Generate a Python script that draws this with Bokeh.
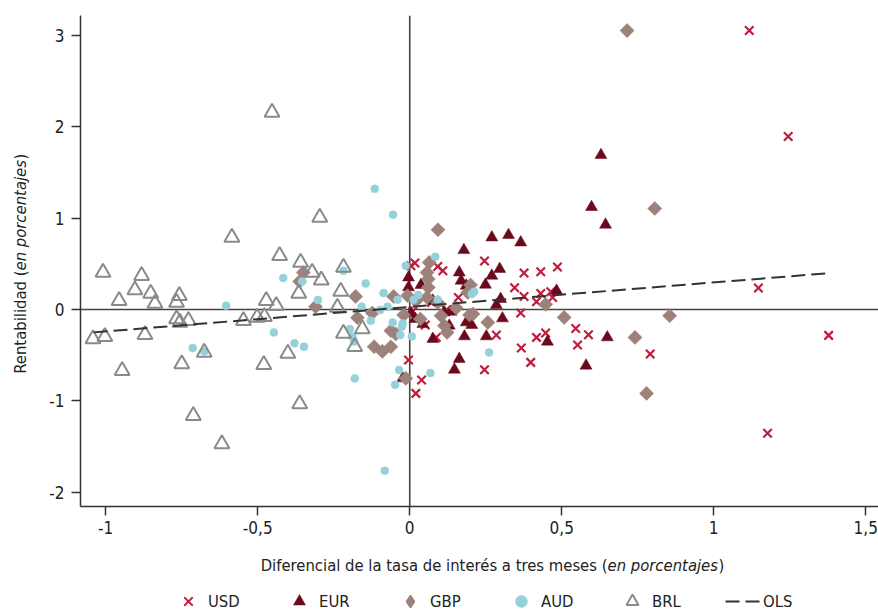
import numpy as np
from bokeh.plotting import figure
from bokeh.layouts import column, row
from bokeh.models import FixedTicker, Label, Legend, LegendItem, Span, Range1d
from bokeh.embed import file_html
from bokeh.resources import INLINE

FONT = "DejaVu Sans Condensed, Liberation Sans Narrow, sans-serif"
TXT = "#222222"

# Interest-rate differential (x, %) vs. carry-trade return (y, %) by currency
usd_x = [1.117, 1.245, 1.147, 1.378, 1.177, 0.546, 0.588, 0.552, 0.791, 0.246,
         0.109, 0.376, 0.431, 0.486, 0.345, 0.376, 0.431, 0.464, 0.470, 0.417,
         0.160, 0.365, 0.285, 0.417, 0.447, 0.367, 0.398, 0.246, 0.051, 0.087,
         -0.004, 0.039, 0.020, 0.004, 0.017, 0.092, 0.072, 0.120, 0.010]
usd_y = [3.05, 1.892, 0.235, -0.283, -1.354, -0.207, -0.275, -0.388, -0.486, 0.53,
         0.424, 0.399, 0.413, 0.464, 0.238, 0.143, 0.176, 0.195, 0.132, 0.085,
         0.132, -0.038, -0.279, -0.305, -0.257, -0.421, -0.578, -0.658, -0.17, -0.305,
         -0.552, -0.77, -0.917, 0.479, 0.508, 0.471, 0.078, -0.005, -0.02]

eur_x = [0.629, 0.598, 0.644, 0.650, 0.580, 0.270, 0.325, 0.365, 0.178, 0.163,
         0.169, 0.186, 0.296, 0.270, 0.249, 0.299, 0.285, 0.483, 0.136, 0.305,
         0.186, 0.180, 0.252, 0.163, 0.147, 0.453, 0.204, 0.130, -0.004, -0.004,
         0.037, 0.076, 0.004, 0.043, 0.017, 0.076, -0.023, 0.114]
eur_y = [1.689, 1.12, 0.927, -0.305, -0.614, 0.788, 0.814, 0.733, 0.65, 0.405,
         0.315, 0.26, 0.443, 0.369, 0.271, 0.115, 0.049, 0.205, -0.024, -0.097,
         -0.141, -0.294, -0.294, -0.541, -0.658, -0.352, -0.17, -0.177, 0.351, 0.242,
         0.268, 0.096, -0.038, -0.159, -0.104, -0.322, -0.753, -0.032]

gbp_x = [0.715, 0.806, 0.855, 0.508, 0.741, 0.779, 0.200, 0.191, 0.447, 0.257,
         0.197, 0.093, 0.114, 0.123, 0.064, 0.057, 0.061, 0.061, 0.057, -0.178,
         -0.053, -0.007, 0.028, 0.103, -0.172, -0.123, -0.020, 0.035, -0.062, -0.046,
         -0.117, -0.090, -0.062, -0.013, 0.092, 0.020, 0.208, 0.153, -0.350, -0.362,
         -0.310]
gbp_y = [3.05, 1.105, -0.068, -0.086, -0.305, -0.917, 0.268, 0.187, 0.056, -0.141,
         -0.06, 0.872, -0.177, -0.25, 0.515, 0.405, 0.333, 0.242, 0.132, 0.143,
         0.143, 0.151, 0.121, -0.068, -0.09, -0.038, -0.06, -0.104, -0.232, -0.268,
         -0.407, -0.458, -0.407, -0.753, 0.078, 0.096, -0.049, 0.016, 0.405, 0.307,
         0.031]

aud_x = [-0.416, -0.604, -0.354, -0.302, -0.447, -0.379, -0.348, -0.676, -0.714, -0.218,
         -0.197, -0.188, -0.183, -0.181, -0.158, -0.115, -0.055, -0.082, -0.145, -0.086,
         -0.040, -0.013, 0.084, -0.097, -0.073, 0.013, 0.028, 0.092, -0.128, -0.056,
         -0.023, -0.026, -0.031, 0.007, -0.035, -0.048, 0.068, 0.204, 0.212, 0.261]
aud_y = [0.344, 0.042, 0.307, 0.104, -0.25, -0.37, -0.407, -0.458, -0.421, 0.424,
         -0.213, -0.297, -0.349, -0.753, 0.031, 1.32, 1.036, -1.762, 0.285, 0.18,
         0.107, 0.479, 0.577, -0.005, 0.031, 0.107, 0.158, 0.107, -0.122, -0.141,
         -0.152, -0.188, -0.279, -0.294, -0.661, -0.822, -0.694, 0.169, 0.195, -0.469]

brl_x = [-0.453, -0.296, -0.585, -0.428, -0.359, -0.321, -0.291, -0.365, -0.218, -0.227,
         -0.472, -0.439, -0.238, -0.547, -0.502, -0.478, -0.218, -0.181, -0.401, -0.480,
         -0.362, -0.618, -1.009, -0.882, -0.904, -0.852, -0.838, -0.956, -0.758, -0.767,
         -0.767, -0.756, -0.728, -1.042, -1.003, -0.871, -0.946, -0.750, -0.676, -0.712,
         -0.156]
brl_y = [2.154, 1.007, 0.788, 0.588, 0.515, 0.405, 0.322, 0.176, 0.46, 0.198,
         0.096, 0.042, 0.023, -0.122, -0.086, -0.079, -0.261, -0.407, -0.48, -0.603,
         -1.033, -1.47, 0.405, 0.369, 0.213, 0.176, 0.067, 0.096, 0.151, 0.078,
         -0.104, -0.141, -0.122, -0.322, -0.297, -0.275, -0.669, -0.596, -0.469, -1.161,
         -0.213]

# Pooled OLS fit, drawn over the sample span
ols_x = [-1.04, 1.37]
ols_y = [-0.25, 0.395]

x_ticks = [-1, -0.5, 0, 0.5, 1, 1.5]
x_tick_labels = ["-1", "-0,5", "0", "0,5", "1", "1,5"]
y_ticks = [-2, -1, 0, 1, 2, 3]
y_tick_labels = ["-2", "-1", "0", "1", "2", "3"]

series_names = ["USD", "EUR", "GBP", "AUD", "BRL", "OLS"]

# Marker styles for the scatter
STYLES = {
    "USD": dict(marker="x", size=12, line_color="#BE1E3E", line_width=2.2),
    "EUR": dict(marker="triangle", size=12, fill_color="#6A0A1C",
                line_color="#6A0A1C", line_width=0.5),
    "GBP": dict(marker="square", size=10, angle=np.pi / 4, fill_color="#9C827A",
                line_color="#9C827A", line_width=0.5),
    "AUD": dict(marker="circle", size=8, fill_color="#95D0DB",
                line_color="#95D0DB", line_width=0.5),
    "BRL": dict(marker="triangle", size=15, fill_alpha=0, line_color="#8A8A8A",
                line_width=2),
}
# Legend swatches ignore marker rotation, so GBP uses the diamond marker there
SWATCH = dict(STYLES)
SWATCH["USD"] = dict(STYLES["USD"], line_width=1.8)
SWATCH["GBP"] = dict(marker="diamond", size=10, fill_color="#9C827A",
                     line_color="#9C827A", line_width=1.5)
OLS_STYLE = dict(line_color="#333333", line_width=2, line_dash="14 6")

data = {"USD": (usd_x, usd_y), "EUR": (eur_x, eur_y), "GBP": (gbp_x, gbp_y),
        "AUD": (aud_x, aud_y), "BRL": (brl_x, brl_y)}


def bare(fig):
    fig.grid.visible = False
    fig.outline_line_color = None
    fig.background_fill_color = "white"
    fig.border_fill_color = "white"
    return fig


# ---- main scatter panel ----
p = bare(figure(width=838, height=545, output_backend="svg", toolbar_location=None,
                x_range=Range1d(-1.083, 1.542), y_range=Range1d(-2.154, 3.215),
                min_border_left=40, min_border_right=0, min_border_top=15,
                min_border_bottom=39))

p.add_layout(Span(location=0, dimension="width", line_color="#444444",
                  line_width=1.6, level="underlay"))
p.add_layout(Span(location=0, dimension="height", line_color="#444444",
                  line_width=1.6, level="underlay"))

for name in series_names[:-1]:
    xs, ys = data[name]
    p.scatter(xs, ys, **STYLES[name])
p.line(ols_x, ols_y, **OLS_STYLE)

for ax in (p.xaxis[0], p.yaxis[0]):
    ax.axis_line_color = "#333333"
    ax.axis_line_width = 1.5
    ax.major_tick_line_color = "#333333"
    ax.major_tick_line_width = 1.5
    ax.major_tick_in = 0
    ax.major_tick_out = 9
    ax.minor_tick_line_color = None
    ax.major_label_text_font = FONT
    ax.major_label_text_font_size = "17px"
    ax.major_label_text_color = TXT

p.xaxis.ticker = FixedTicker(ticks=x_ticks)
p.xaxis.major_label_overrides = dict(zip(x_ticks, x_tick_labels))
p.xaxis.major_label_standoff = 5
p.yaxis.ticker = FixedTicker(ticks=y_ticks)
p.yaxis.major_label_overrides = dict(zip(y_ticks, y_tick_labels))
p.yaxis.major_label_standoff = 7


def title_part(fig, text, x, y, align, style="normal", angle=0.0):
    fig.add_layout(Label(x=x, y=y, x_units="screen", y_units="screen", text=text,
                         text_font=FONT, text_font_size="16.5px",
                         text_font_style=style, text_color=TXT,
                         text_align=align, text_baseline="middle", angle=angle))


# ---- y-axis title strip ----
ylab = bare(figure(width=40, height=545, output_backend="svg", toolbar_location=None,
                   x_axis_location=None, y_axis_location=None, min_border=0,
                   x_range=Range1d(0, 1), y_range=Range1d(0, 1)))
yx, yj = 20, 236
title_part(ylab, "Rentabilidad (", yx, yj, "right", angle=np.pi / 2)
title_part(ylab, "en porcentajes", yx, yj, "left", "italic", angle=np.pi / 2)
title_part(ylab, ")", yx, yj + 111, "left", angle=np.pi / 2)

# ---- x-axis title and legend strip ----
# The strip's ranges lie far from the data, so its series only feed the legend swatches.
foot = bare(figure(width=878, height=66, output_backend="svg", toolbar_location=None,
                   x_axis_location=None, y_axis_location=None, min_border=0,
                   x_range=Range1d(50, 51), y_range=Range1d(50, 51)))
xj, xy = 607, 46
title_part(foot, "Diferencial de la tasa de interés a tres meses (", xj, xy, "right")
title_part(foot, "en porcentajes", xj, xy, "left", "italic")
title_part(foot, ")", xj + 111, xy, "left")

swatches = [foot.scatter(data[n][0], data[n][1], **SWATCH[n]) for n in series_names[:-1]]
swatches.append(foot.line(ols_x, ols_y, **OLS_STYLE))
legend = Legend(
    items=[LegendItem(label=n, renderers=[r]) for n, r in zip(series_names, swatches)],
    orientation="horizontal", location=(170, -5),
    glyph_width=36, glyph_height=30, label_standoff=2, label_width=55,
    spacing=18, padding=0, margin=0,
    border_line_color=None, background_fill_alpha=0,
    label_text_font=FONT, label_text_font_size="16.5px", label_text_color=TXT)
foot.add_layout(legend, "center")

layout = column(row(ylab, p, spacing=0), foot, spacing=0)
open("out.html", "w").write(file_html(layout, INLINE))
